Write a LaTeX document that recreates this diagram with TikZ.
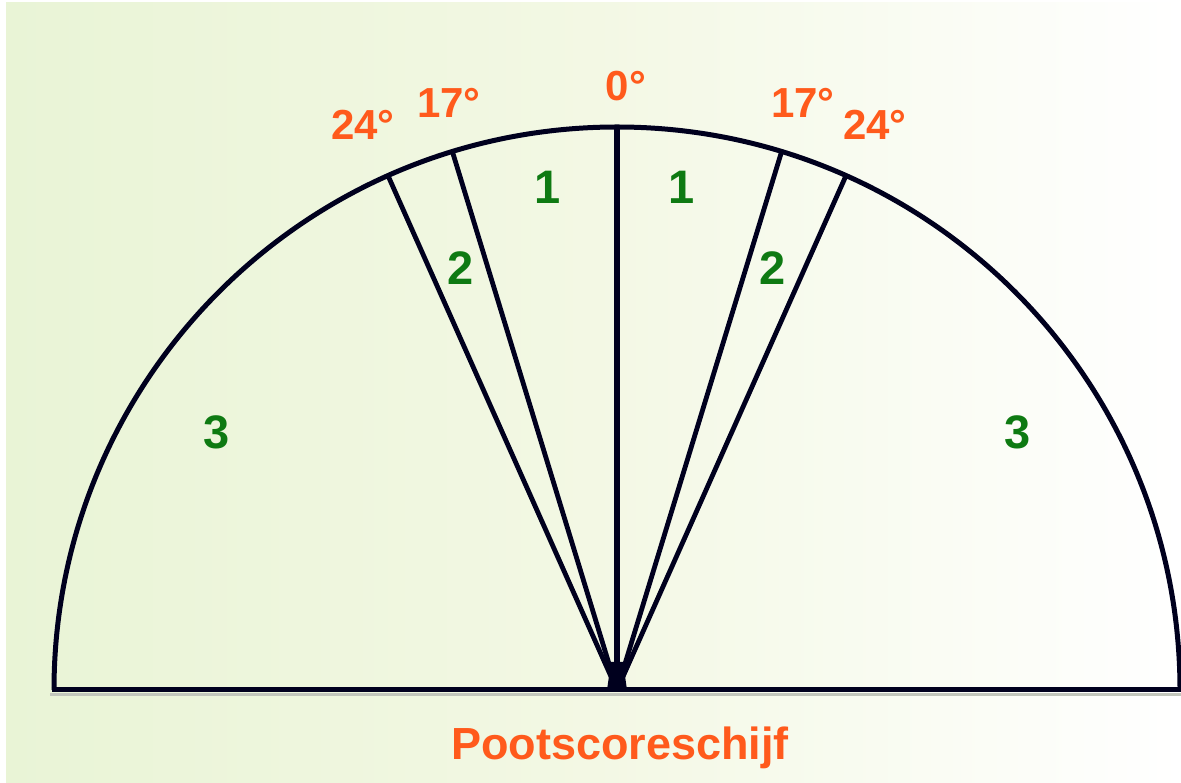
\documentclass[tikz,border=0pt]{standalone}
\usepackage{fontspec}
\setmainfont{Liberation Sans}
\definecolor{lbl}{HTML}{FF5A1C}
\definecolor{num}{HTML}{0E7A12}
\definecolor{ink}{HTML}{00001E}
\definecolor{bgl}{HTML}{E9F4D6}
\definecolor{bgm}{HTML}{F3F8E4}
\definecolor{shad}{HTML}{C2C6BC}
\begin{document}
\begin{tikzpicture}[x=1pt,y=1pt,
  deg/.style={text=lbl,font=\fontsize{42}{46}\selectfont\bfseries,inner sep=0pt},
  zone/.style={text=num,font=\fontsize{47}{50}\selectfont\bfseries,inner sep=0pt},
  title/.style={text=lbl,font=\fontsize{45}{50}\selectfont\bfseries,inner sep=0pt,anchor=base},
  rim/.style={draw=ink,line width=5pt},
  ray/.style={draw=ink,line width=4.8pt},
  shadow/.style={draw=shad,line width=3pt}]
\useasboundingbox (0,0) rectangle (1181,782);
\fill[white] (0,0) rectangle (1181,782);
\shade[left color=bgl,right color=white,middle color=bgm] (6,0) rectangle (1181,779);
\coordinate (C) at (617,92);
% shadow
\draw[shadow] (50,87) -- (1181,87);
% rays
\draw[ray] (C) -- ++(107:563);
\draw[ray] (C) -- ++(114:563);
\draw[ray] (C) -- ++(73:563);
\draw[ray] (C) -- ++(66:563);
\draw[draw=ink,line width=6pt] (C) -- ++(90:563);
\fill[ink] (C) ++(-10,0) -- ++(20,0) -- ++(-4,28) -- ++(-12,0) -- cycle;
% rim
\draw[rim] (54,92) arc[start angle=180,end angle=0,radius=563];
\draw[rim] (51.5,92) -- (1181,92);
% degree labels
\node[deg] (d0) at (626,696) {0°};
\node[deg] (d17l) at (449,679) {17°};
\node[deg] (d24l) at (363,657) {24°};
\node[deg] (d17r) at (803,679) {17°};
\node[deg] (d24r) at (875,657) {24°};
% zone numbers
\node[zone] (z1l) at (548,595) {1};
\node[zone] (z1r) at (682,595) {1};
\node[zone] (z2l) at (461,514) {2};
\node[zone] (z2r) at (773,514) {2};
\node[zone] (z3l) at (217,350) {3};
\node[zone] (z3r) at (1018,350) {3};
% title
\node[title] (t) at (620,22) {Pootscoreschijf};
\end{tikzpicture}
\end{document}
